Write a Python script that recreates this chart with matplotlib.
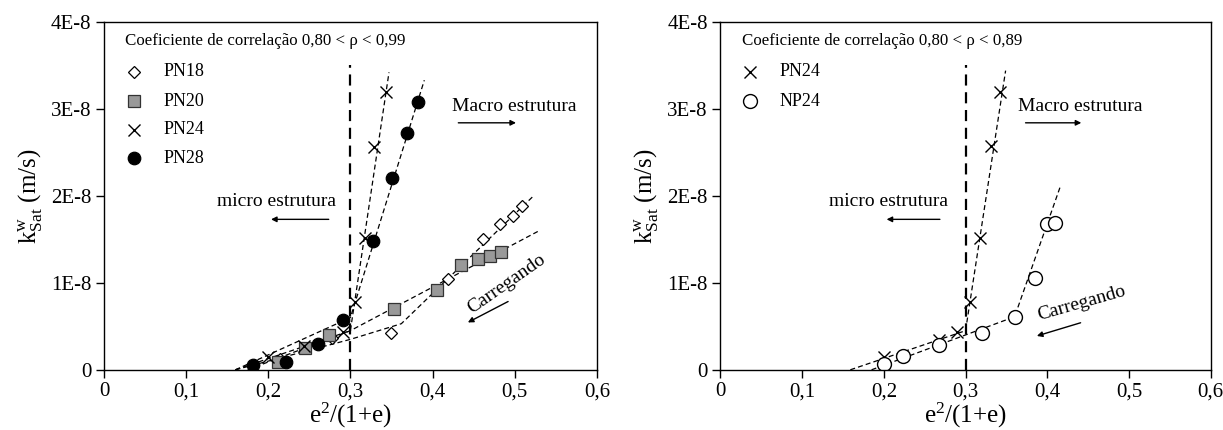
import matplotlib
matplotlib.use('Agg')
import matplotlib.pyplot as plt
import numpy as np

plt.rcParams['font.family'] = ['Liberation Serif', 'DejaVu Serif']
plt.rcParams['mathtext.fontset'] = 'custom'
plt.rcParams['mathtext.rm'] = 'Liberation Serif'
plt.rcParams['mathtext.it'] = 'Liberation Serif:italic'

# left panel data (x = e^2/(1+e), k in units of 1E-8 m/s)
pn18_x = [0.214, 0.278, 0.350, 0.419, 0.461, 0.482, 0.498, 0.509]
pn18_k = [0.12, 0.36, 0.42, 1.04, 1.50, 1.68, 1.77, 1.88]
pn20_x = [0.212, 0.245, 0.274, 0.353, 0.405, 0.435, 0.455, 0.470, 0.483]
pn20_k = [0.095, 0.25, 0.40, 0.70, 0.92, 1.20, 1.27, 1.31, 1.36]
pn24_x = [0.200, 0.243, 0.291, 0.306, 0.318, 0.329, 0.343]
pn24_k = [0.145, 0.27, 0.44, 0.78, 1.51, 2.56, 3.19]
pn28_x = [0.182, 0.222, 0.260, 0.291, 0.327, 0.351, 0.369, 0.382]
pn28_k = [0.057, 0.095, 0.30, 0.57, 1.48, 2.21, 2.72, 3.08]

# right panel data
r_pn24_x = [0.200, 0.267, 0.289, 0.305, 0.318, 0.331, 0.342]
r_pn24_k = [0.15, 0.34, 0.44, 0.78, 1.51, 2.57, 3.19]
np24_x = [0.200, 0.224, 0.267, 0.320, 0.360, 0.385, 0.400, 0.410]
np24_k = [0.065, 0.16, 0.29, 0.42, 0.61, 1.05, 1.68, 1.69]

# fitted trend lines (polylines)
fit_left = [
    ([0.160, 0.300, 0.362, 0.523], [0.0, 0.35, 0.53, 2.00]),  # PN18
    ([0.175, 0.300, 0.530], [0.0, 0.45, 1.60]),               # PN20
    ([0.160, 0.300, 0.347], [0.0, 0.45, 3.42]),               # PN24
    ([0.160, 0.300, 0.390], [0.0, 0.60, 3.33]),               # PN28
]
fit_right = [
    ([0.159, 0.300, 0.349], [0.0, 0.45, 3.44]),  # PN24
    ([0.185, 0.360, 0.416], [0.0, 0.61, 2.11]),  # NP24
]

xticks = [0, 0.1, 0.2, 0.3, 0.4, 0.5, 0.6]
xtick_labels = ['0', '0,1', '0,2', '0,3', '0,4', '0,5', '0,6']
yticks = [0, 1, 2, 3, 4]
ytick_labels = ['0', '1E-8', '2E-8', '3E-8', '4E-8']

fig = plt.figure(figsize=(12.23, 4.30), dpi=100)
ax1 = fig.add_axes([0.085, 0.14, 0.403, 0.809])
ax2 = fig.add_axes([0.589, 0.14, 0.401, 0.809])

styles = {
    'PN18': dict(marker='D', ms=6, mfc='white', mec='black', mew=0.9),
    'PN20': dict(marker='s', ms=9, mfc='#999999', mec='#333333', mew=0.9),
    'PN24': dict(marker='x', ms=9, mfc='none', mec='black', mew=1.0),
    'PN28': dict(marker='o', ms=9, mfc='black', mec='black', mew=0.9),
    'NP24': dict(marker='o', ms=10, mfc='white', mec='black', mew=1.0),
}


def setup(ax, header, legend):
    ax.set_xlim(0, 0.6)
    ax.set_ylim(0, 4)
    ax.set_xticks(xticks)
    ax.set_xticklabels(xtick_labels, fontsize=15)
    ax.set_yticks(yticks)
    ax.set_yticklabels(ytick_labels, fontsize=15)
    ax.tick_params(direction='out', length=6, width=1, pad=3)
    for s in ax.spines.values():
        s.set_linewidth(1.0)
    ax.set_xlabel('e$^{2}$/(1+e)', fontsize=18, labelpad=0)
    ax.set_ylabel(r'k$^{\mathrm{w}}_{\mathrm{Sat}}$ (m/s)', fontsize=18, labelpad=5)
    ax.axvline(0.3, ymin=0, ymax=3.5 / 4, color='black', ls=(0, (5, 3)), lw=1.6)
    ax.text(0.026, 3.78, header, fontsize=12.2, va='center', ha='left')
    ys = [3.43, 3.09, 2.76, 2.43]
    for (name, st), y in zip(legend, ys):
        ax.plot([0.036], [y], ls='none', **st)
        ax.text(0.073, y, name, fontsize=13, va='center', ha='left')


setup(ax1, 'Coeficiente de correlação 0,80 < ρ < 0,99',
      [(n, styles[n]) for n in ['PN18', 'PN20', 'PN24', 'PN28']])
setup(ax2, 'Coeficiente de correlação 0,80 < ρ < 0,89',
      [(n, styles[n]) for n in ['PN24', 'NP24']])

for fx, fy in fit_left:
    ax1.plot(fx, fy, color='black', ls=(0, (4, 2.5)), lw=0.9)
for fx, fy in fit_right:
    ax2.plot(fx, fy, color='black', ls=(0, (4, 2.5)), lw=0.9)

ax1.plot(pn18_x, pn18_k, ls='none', **styles['PN18'])
ax1.plot(pn20_x, pn20_k, ls='none', **styles['PN20'])
ax1.plot(pn24_x, pn24_k, ls='none', **styles['PN24'])
ax1.plot(pn28_x, pn28_k, ls='none', **styles['PN28'])

ax2.plot(r_pn24_x, r_pn24_k, ls='none', **styles['PN24'])
ax2.plot(np24_x, np24_k, ls='none', **styles['NP24'])

arrow = dict(arrowstyle='-|>', color='black', lw=1.0, mutation_scale=8)

# left annotations
ax1.text(0.50, 3.03, 'Macro estrutura', fontsize=14, ha='center', va='center')
ax1.annotate('', xy=(0.505, 2.84), xytext=(0.428, 2.84), arrowprops=arrow)
ax1.text(0.21, 1.94, 'micro estrutura', fontsize=14, ha='center', va='center')
ax1.annotate('', xy=(0.20, 1.73), xytext=(0.277, 1.73), arrowprops=arrow)
ax1.text(0.49, 0.99, 'Carregando', fontsize=14, ha='center', va='center', rotation=35)
ax1.annotate('', xy=(0.44, 0.53), xytext=(0.495, 0.80), arrowprops=arrow)

# right annotations
ax2.text(0.44, 3.03, 'Macro estrutura', fontsize=14, ha='center', va='center')
ax2.annotate('', xy=(0.445, 2.84), xytext=(0.37, 2.84), arrowprops=arrow)
ax2.text(0.206, 1.94, 'micro estrutura', fontsize=14, ha='center', va='center')
ax2.annotate('', xy=(0.20, 1.73), xytext=(0.272, 1.73), arrowprops=arrow)
ax2.text(0.442, 0.76, 'Carregando', fontsize=14, ha='center', va='center', rotation=16)
ax2.annotate('', xy=(0.384, 0.38), xytext=(0.444, 0.55), arrowprops=arrow)

fig.savefig('out.png', dpi=100)
